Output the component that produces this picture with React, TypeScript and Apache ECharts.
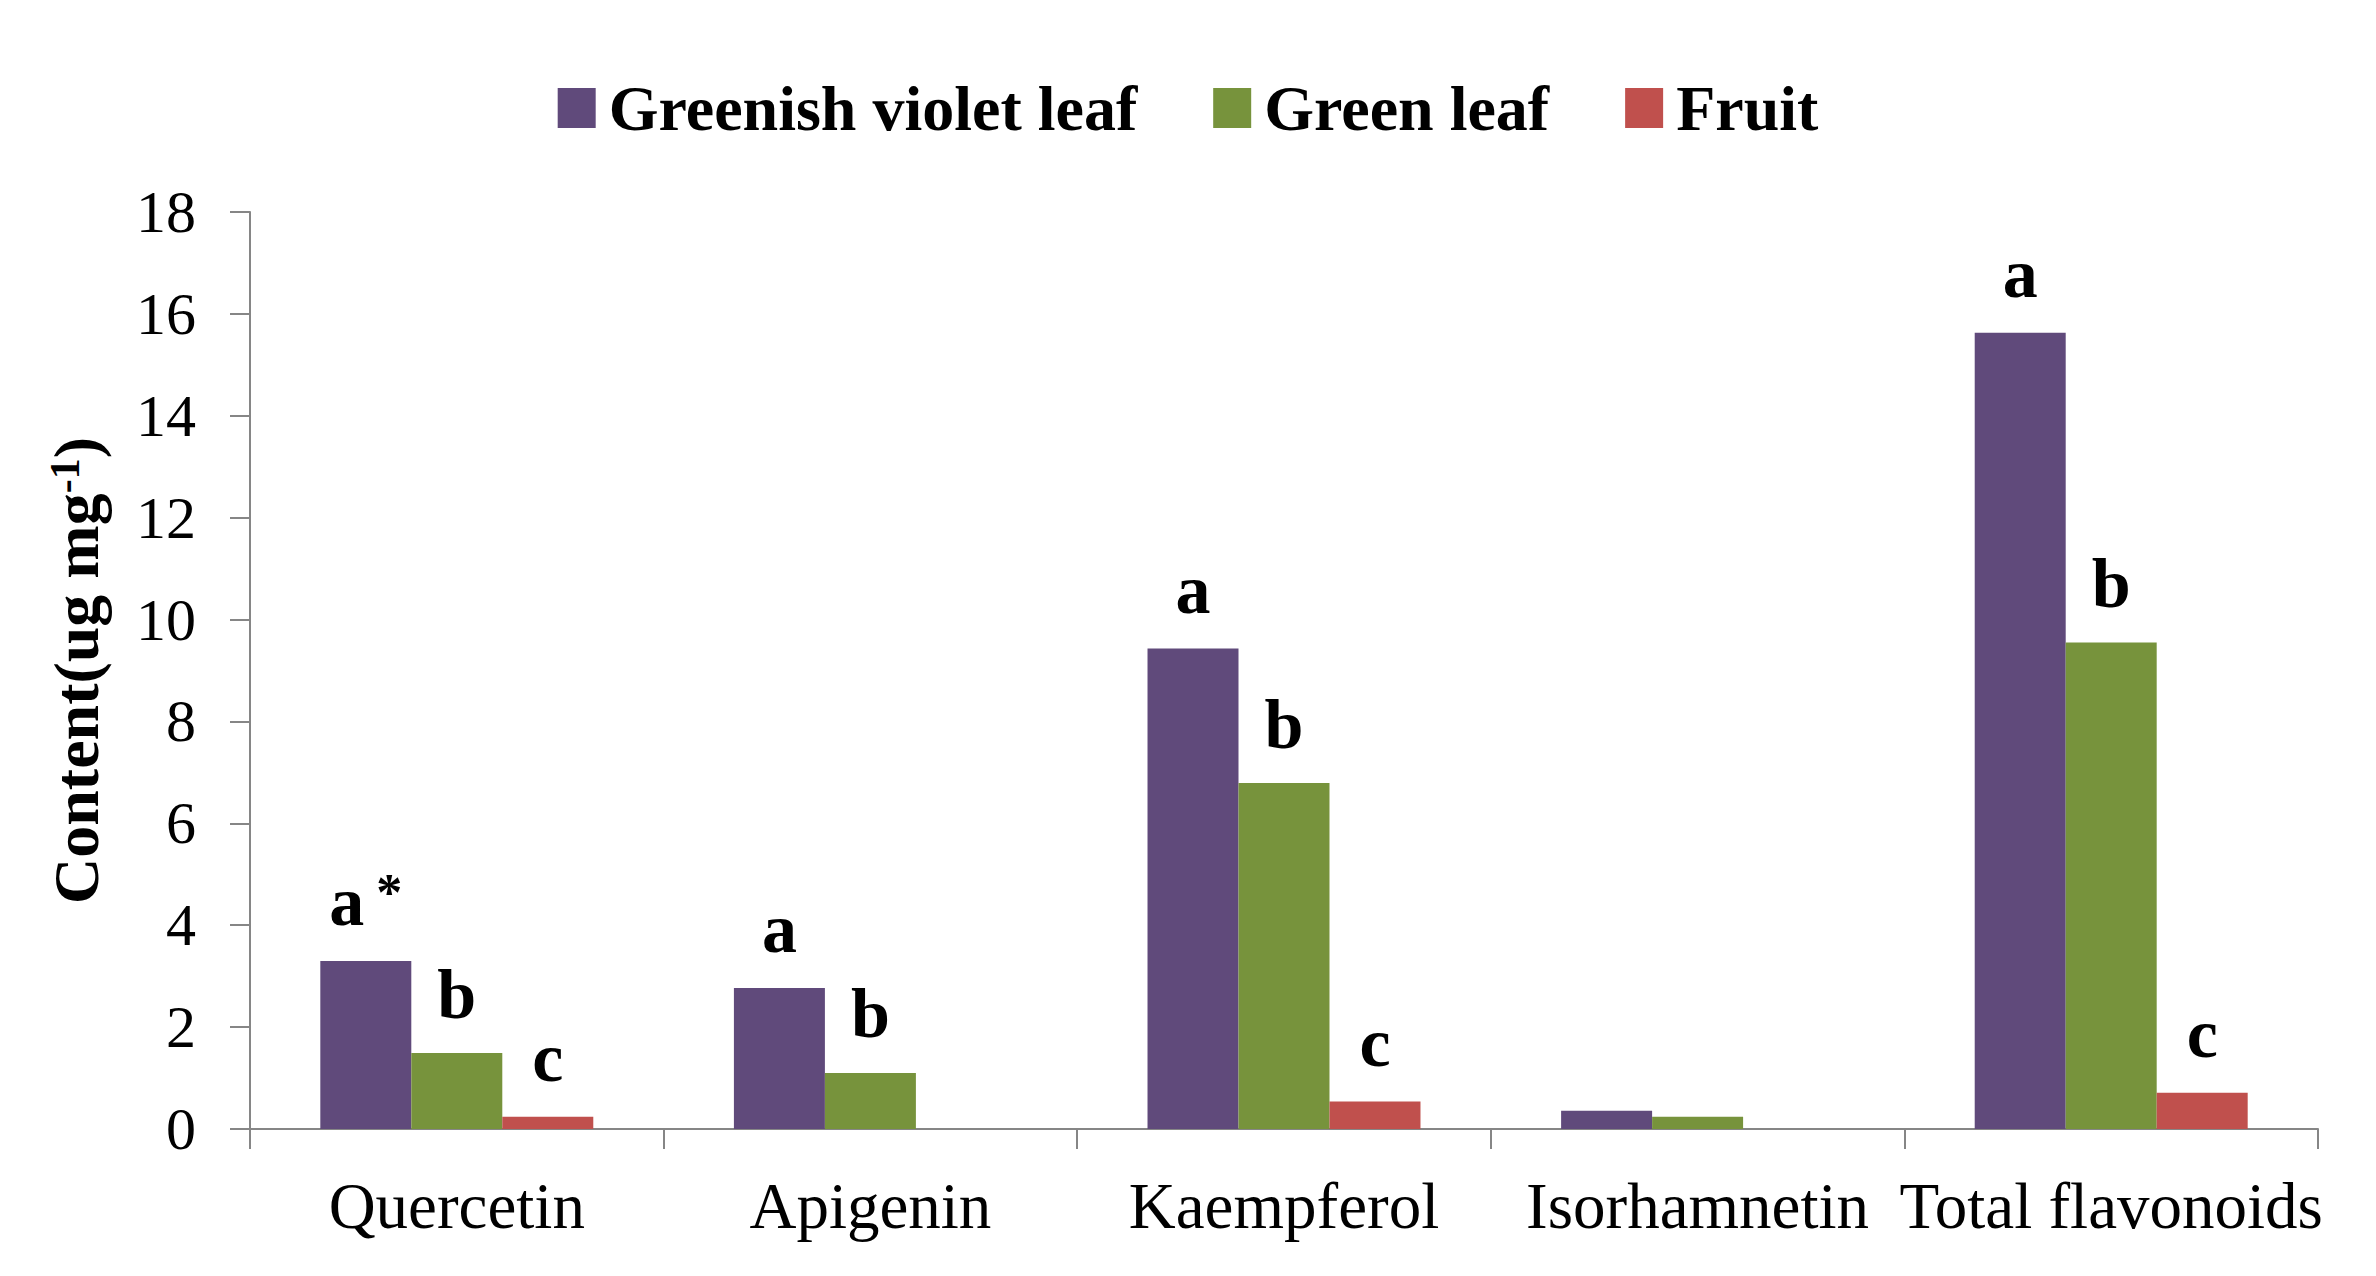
import React, { useEffect, useRef } from "react";
import * as echarts from "echarts";

const categories = ["Quercetin", "Apigenin", "Kaempferol", "Isorhamnetin", "Total flavonoids"];
const seriesNames = ["Greenish violet leaf", "Green leaf", "Fruit"];
const violetLeaf = [3.3, 2.77, 9.43, 0.36, 15.63];
const greenLeaf = [1.49, 1.1, 6.79, 0.24, 9.55];
const fruit = [0.24, 0, 0.54, 0, 0.71];
const violetLetters = ["a*", "a", "a", "", "a"];
const greenLetters = ["b", "b", "b", "", "b"];
const fruitLetters = ["c", "", "c", "", "c"];
const colors = ["#604A7B", "#77933C", "#C0504D"];
const yTicks = { min: 0, max: 18, interval: 2 };

const FONT = "'Liberation Serif', 'Times New Roman', serif";

function letterFormatter(letters: string[]) {
  return (p: any) => {
    const t = letters[p.dataIndex] || "";
    if (t.endsWith("*")) return `{l|${t.slice(0, -1)}}{s|*}`;
    return t ? `{l|${t}}` : "";
  };
}

export default function App() {
  const ref = useRef<HTMLDivElement>(null);
  useEffect(() => {
    if (!ref.current) return;
    const chart = echarts.init(ref.current, null, { renderer: "svg" });
    const labelCfg = (letters: string[]) => ({
      show: true,
      position: "top",
      distance: 24,
      formatter: letterFormatter(letters),
      rich: {
        l: { fontFamily: FONT, fontWeight: "bold", fontSize: 70, color: "#000" },
        s: { fontFamily: FONT, fontWeight: "bold", fontSize: 52, color: "#000", verticalAlign: "top", padding: [0, 0, 0, 12] },
      },
    });
    const data = [violetLeaf, greenLeaf, fruit];
    const letters = [violetLetters, greenLetters, fruitLetters];
    chart.setOption({
      animation: false,
      backgroundColor: "#fff",
      textStyle: { fontFamily: FONT },
      legend: {
        top: 71,
        left: "center",
        itemWidth: 38,
        itemHeight: 40,
        itemGap: 76,
        icon: "rect",
        textStyle: { fontFamily: FONT, fontWeight: "bold", fontSize: 64, color: "#000", padding: [0, 0, 0, 8] },
        data: seriesNames,
      },
      grid: { left: 250, right: 58, top: 212, bottom: 147, containLabel: false },
      xAxis: {
        type: "category",
        data: categories,
        axisLine: { show: true, lineStyle: { color: "#868686", width: 2 } },
        axisTick: { show: true, alignWithLabel: false, length: 20, lineStyle: { color: "#868686", width: 2 } },
        axisLabel: { fontFamily: FONT, fontSize: 65, color: "#000", margin: 44, interval: 0 },
      },
      yAxis: {
        type: "value",
        min: yTicks.min,
        max: yTicks.max,
        interval: yTicks.interval,
        name: "{t|Content(ug mg}{sup|-1}{t|)}",
        nameLocation: "middle",
        nameRotate: 90,
        nameGap: 142,
        nameTextStyle: {
          rich: {
            t: { fontFamily: FONT, fontWeight: "bold", fontSize: 64, color: "#000" },
            sup: { fontFamily: FONT, fontWeight: "bold", fontSize: 42, color: "#000", verticalAlign: "top" },
          },
        },
        splitLine: { show: false },
        axisLine: { show: true, lineStyle: { color: "#868686", width: 2 } },
        axisTick: { show: true, length: 20, lineStyle: { color: "#868686", width: 2 } },
        axisLabel: { fontFamily: FONT, fontSize: 60, color: "#000", margin: 54 },
      },
      series: seriesNames.map((name, i) => ({
        name,
        type: "bar",
        data: data[i],
        barGap: "0%",
        barCategoryGap: "34%",
        itemStyle: { color: colors[i] },
        label: labelCfg(letters[i]),
      })),
    });
    return () => chart.dispose();
  }, []);
  return (
    <div
      ref={ref}
      style={{ position: "absolute", left: 0, top: 0, width: 2376, height: 1276 }}
    />
  );
}
